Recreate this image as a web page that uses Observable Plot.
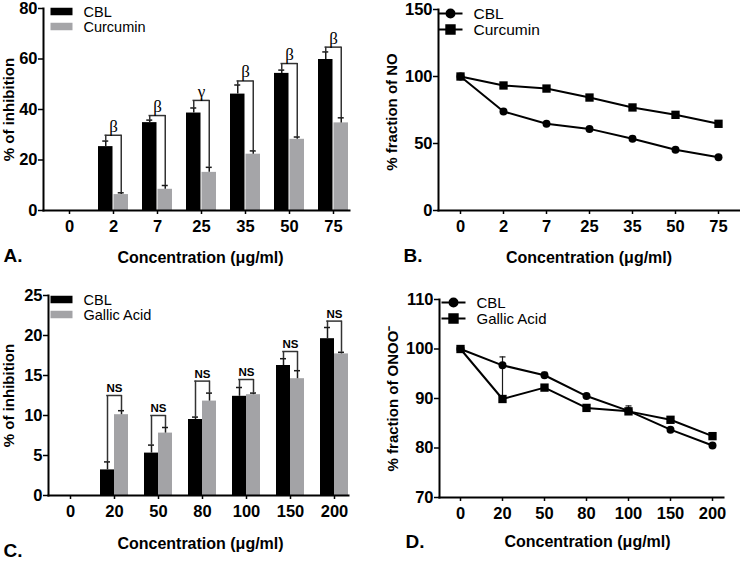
<!DOCTYPE html>
<html>
<head>
<meta charset="utf-8">
<script src="https://cdn.jsdelivr.net/npm/d3@7"></script>
<script src="https://cdn.jsdelivr.net/npm/@observablehq/plot@0.6"></script>
<style>
html,body{margin:0;padding:0;background:#fff;}
#fig{position:relative;width:740px;height:561px;overflow:hidden;background:#fff;}
#fig svg{position:absolute;overflow:visible;}
</style>
</head>
<body>
<div id="fig"></div>
<script>
// ---------- Panel A: % inhibition, CBL vs Curcumin ----------
const concA = ["0", "2", "7", "25", "35", "50", "75"];
const cblA = [0, 25.3, 34.8, 38.6, 46.1, 54.3, 59.8];
const cblAHi = [0, 27.5, 35.8, 40.6, 49.7, 55.6, 62.8];
const curA = [0, 6.3, 8.4, 15.1, 22.3, 28.2, 34.7];
const curAHi = [0, 7.0, 9.9, 17.1, 23.6, 29.1, 36.7];
const sigA = ["", "β", "β", "γ", "β", "β", "β"];
const sigALevel = [0, 29.8, 37.6, 43.6, 51.3, 58.2, 64.7];
const ticksA = [0, 20, 40, 60, 80];

// ---------- Panel B: % fraction of NO ----------
const concB = ["0", "2", "7", "25", "35", "50", "75"];
const cblB = [100, 73.9, 64.7, 60.9, 53.5, 45.3, 39.8];
const cblBHi = [100, 73.9, 64.7, 60.9, 55.3, 45.3, 39.8];
const curB = [100, 93.3, 91.0, 84.3, 76.9, 71.4, 64.7];
const curBHi = [100, 93.3, 91.0, 84.3, 76.9, 71.4, 64.7];
const ticksB = [0, 50, 100, 150];

// ---------- Panel C: % inhibition, CBL vs Gallic Acid ----------
const concC = ["0", "20", "50", "80", "100", "150", "200"];
const cblC = [0, 3.2, 5.3, 9.5, 12.4, 16.25, 19.6];
const cblCHi = [0, 4.2, 6.3, 9.8, 13.5, 17.1, 21.0];
const galC = [0, 10.1, 7.8, 11.8, 12.6, 14.6, 17.7];
const galCHi = [0, 10.6, 8.5, 12.8, 12.8, 15.6, 17.9];
const sigC = ["", "NS", "NS", "NS", "NS", "NS", "NS"];
const sigCLevel = [0, 12.5, 10.0, 14.3, 14.5, 18.0, 21.8];
const ticksC = [0, 5, 10, 15, 20, 25];

// ---------- Panel D: % fraction of ONOO- ----------
const concD = ["0", "20", "50", "80", "100", "150", "200"];
const cblD = [100, 96.7, 94.7, 90.5, 87.5, 83.7, 80.5];
const cblDHi = [100, 98.4, 95.3, 90.5, 88.5, 83.7, 80.5];
const galD = [100, 89.9, 92.2, 88.1, 87.4, 85.7, 82.4];
const galDHi = [100, 96.5, 92.2, 88.1, 87.4, 85.7, 82.4];
const ticksD = [70, 80, 90, 100, 110];

const xTitle = "Concentration (μg/ml)";

const SANS = "'Liberation Sans', Arial, Helvetica, sans-serif";
const SERIF = "'Liberation Serif', 'Times New Roman', serif";
const INK = "#1a1a1a";

const baseStyle = {fontFamily: SANS, fontSize: "16px", fontWeight: "bold", color: "black", background: "white", overflow: "visible"};

const swatch = {draw(ctx) { ctx.rect(-11, -3.75, 22, 7.5); }};
const lineCircle = {draw(ctx) { ctx.moveTo(-12, 0); ctx.lineTo(12, 0); ctx.moveTo(4, 0); ctx.arc(0, 0, 4, 0, 2 * Math.PI); }};
const lineSquare = {draw(ctx) { ctx.moveTo(-12, 0); ctx.lineTo(12, 0); ctx.rect(-4.2, -4.2, 8.4, 8.4); }};
const capSym = {draw(ctx) { ctx.moveTo(-3, 0); ctx.lineTo(3, 0); }};

function titles(o) {
  return [
    Plot.text([o.yTitle], {text: d => d, frameAnchor: "left", rotate: -90, textAnchor: "middle", lineAnchor: "middle", dx: o.yT[0], dy: o.yT[1], fontFamily: SANS, fontSize: 15, fontWeight: "bold"}),
    Plot.text([xTitle], {text: d => d, frameAnchor: "bottom", textAnchor: "middle", lineAnchor: "middle", dx: o.xT[0], dy: o.xT[1], fontFamily: SANS, fontSize: 16, fontWeight: "bold"}),
    Plot.text([o.letter], {text: d => d, frameAnchor: "bottom-left", textAnchor: "start", lineAnchor: "middle", dx: o.lT[0], dy: o.lT[1], fontFamily: SANS, fontSize: 19, fontWeight: "bold"})
  ];
}

function barPanel(o) {
  const rows = o.conc.map((c, i) => ({c, a: o.a[i], aHi: o.aHi[i], b: o.b[i], bHi: o.bHi[i], sig: o.sig[i], lvl: o.lvl[i]}));
  const d = rows.filter(r => r.a > 0);
  const bw = o.bw, g = o.gap, off = (bw + g) / 4, cw = 6;
  return Plot.plot({
    width: 370, height: o.height,
    marginLeft: o.m[0], marginTop: o.m[1], marginRight: o.m[2], marginBottom: o.m[3],
    x: {type: "band", domain: o.conc, paddingInner: o.pi, paddingOuter: o.po, align: o.align},
    y: {domain: o.yDomain},
    style: baseStyle,
    marks: [
      Plot.barY(d, {x: "c", y: "a", fill: "black", insetRight: bw / 2 + g / 2}),
      Plot.barY(d, {x: "c", y: "b", fill: o.gray, insetLeft: bw / 2 + g / 2}),
      Plot.ruleX(d, {x: "c", y1: "a", y2: "aHi", dx: -off, stroke: INK, strokeWidth: 1.5}),
      Plot.ruleX(d, {x: "c", y1: "b", y2: "bHi", dx: off, stroke: INK, strokeWidth: 1.5}),
      Plot.tickY(d, {x: "c", y: "aHi", insetLeft: bw / 2 - off - cw / 2, insetRight: bw / 2 + off - cw / 2, stroke: INK, strokeWidth: 1.5}),
      Plot.tickY(d, {x: "c", y: "bHi", insetLeft: bw / 2 + off - cw / 2, insetRight: bw / 2 - off - cw / 2, stroke: INK, strokeWidth: 1.5}),
      // significance brackets
      Plot.ruleX(d, {x: "c", y1: "aHi", y2: "lvl", dx: -off, stroke: "#333", strokeWidth: 1.5}),
      Plot.ruleX(d, {x: "c", y1: "bHi", y2: "lvl", dx: off, stroke: "#333", strokeWidth: 1.5}),
      Plot.tickY(d, {x: "c", y: "lvl", insetLeft: bw / 2 - off - 0.75, insetRight: bw / 2 - off - 0.75, stroke: "#333", strokeWidth: 1.5}),
      Plot.text(d, {x: "c", y: "lvl", text: "sig", dy: o.sigDy, fontFamily: o.sigFont, fontSize: o.sigSize, fontWeight: o.sigWeight}),
      // axes
      Plot.axisY(o.yTicks, {tickSize: 5, tickPadding: 1, label: null, strokeWidth: 1.5, fontSize: 16.5}),
      Plot.axisX({tickSize: 4, tickPadding: 6, label: null, strokeWidth: 1.5, fontSize: 16.5}),
      Plot.frame({anchor: "left", strokeWidth: 2}),
      Plot.frame({anchor: "bottom", strokeWidth: 2}),
      // legend
      Plot.dot([o.names[0]], {frameAnchor: "top-left", dx: o.lg[0], dy: o.lg[1], symbol: swatch, fill: "black", stroke: "none"}),
      Plot.dot([o.names[1]], {frameAnchor: "top-left", dx: o.lg[0], dy: o.lg[2], symbol: swatch, fill: o.gray, stroke: "none"}),
      Plot.text([o.names[0]], {text: d => d, frameAnchor: "top-left", textAnchor: "start", lineAnchor: "middle", dx: o.lg[3], dy: o.lg[1] + 0.5, fontSize: 14.5, fontWeight: "normal"}),
      Plot.text([o.names[1]], {text: d => d, frameAnchor: "top-left", textAnchor: "start", lineAnchor: "middle", dx: o.lg[3], dy: o.lg[2] + 0.5, fontSize: 14.5, fontWeight: "normal"}),
      ...titles(o)
    ]
  });
}

function linePanel(o) {
  const s1 = o.conc.map((c, i) => ({c, v: o.a[i], hi: o.aHi[i]}));
  const s2 = o.conc.map((c, i) => ({c, v: o.b[i], hi: o.bHi[i]}));
  const e1 = s1.filter(r => r.hi > r.v), e2 = s2.filter(r => r.hi > r.v);
  return Plot.plot({
    width: 370, height: o.height,
    marginLeft: o.m[0], marginTop: o.m[1], marginRight: o.m[2], marginBottom: o.m[3],
    x: {type: "point", domain: o.conc, padding: o.pad, align: o.align},
    y: {domain: o.yDomain},
    style: baseStyle,
    marks: [
      Plot.ruleX(e1, {x: "c", y1: "v", y2: "hi", stroke: INK, strokeWidth: 1.2}),
      Plot.ruleX(e2, {x: "c", y1: "v", y2: "hi", stroke: INK, strokeWidth: 1.2}),
      Plot.dot(e1, {x: "c", y: "hi", symbol: capSym, stroke: INK, strokeWidth: 1.2}),
      Plot.dot(e2, {x: "c", y: "hi", symbol: capSym, stroke: INK, strokeWidth: 1.2}),
      Plot.line(s1, {x: "c", y: "v", stroke: "black", strokeWidth: 2}),
      Plot.line(s2, {x: "c", y: "v", stroke: "black", strokeWidth: 2}),
      Plot.dot(s1, {x: "c", y: "v", r: 4, fill: "black", symbol: "circle", stroke: "none"}),
      Plot.dot(s2, {x: "c", y: "v", r: 4.7, fill: "black", symbol: "square", stroke: "none"}),
      Plot.axisY(o.yTicks, {tickSize: 5, tickPadding: 1, label: null, strokeWidth: 1.5, fontSize: 16.5}),
      Plot.axisX({tickSize: 4, tickPadding: 6, label: null, strokeWidth: 1.5, fontSize: 16.5}),
      Plot.frame({anchor: "left", strokeWidth: 2}),
      Plot.frame({anchor: "bottom", strokeWidth: 2}),
      // legend
      Plot.dot([o.names[0]], {frameAnchor: "top-left", dx: o.lg[0], dy: o.lg[1], symbol: lineCircle, fill: "black", stroke: "black", strokeWidth: 2}),
      Plot.dot([o.names[1]], {frameAnchor: "top-left", dx: o.lg[0], dy: o.lg[2], symbol: lineSquare, fill: "black", stroke: "black", strokeWidth: 2}),
      Plot.text([o.names[0]], {text: d => d, frameAnchor: "top-left", textAnchor: "start", lineAnchor: "middle", dx: o.lg[3], dy: o.lg[1] + 0.5, fontSize: o.lgFont, fontWeight: "normal"}),
      Plot.text([o.names[1]], {text: d => d, frameAnchor: "top-left", textAnchor: "start", lineAnchor: "middle", dx: o.lg[3], dy: o.lg[2] + 0.5, fontSize: o.lgFont, fontWeight: "normal"}),
      ...titles(o)
    ]
  });
}

const fig = document.getElementById("fig");
function place(svg, left, top) {
  svg.style.position = "absolute";
  svg.style.left = left + "px";
  svg.style.top = top + "px";
  fig.appendChild(svg);
}

place(barPanel({
  conc: concA, a: cblA, aHi: cblAHi, b: curA, bHi: curAHi, sig: sigA, lvl: sigALevel,
  names: ["CBL", "Curcumin"], gray: "#a5a5a8",
  height: 280, m: [43, 8, 21, 70], pi: 0.32, po: 0.12, align: 0.93, bw: 30, gap: 1,
  yDomain: [0, 80], yTicks: ticksA,
  sigDy: -9, sigFont: SERIF, sigSize: 17, sigWeight: "normal",
  lg: [18, 3, 18, 40],
  yTitle: "% of inhibition", yT: [-34, 0], xT: [4, 47], lT: [-40, 45], letter: "A."
}), 0, 0);

place(linePanel({
  conc: concB, a: cblB, aHi: cblBHi, b: curB, bHi: curBHi,
  names: ["CBL", "Curcumin"], lgFont: 15.5,
  height: 280, m: [68, 9, 1, 70], pad: 0.484, align: 0.5,
  yDomain: [0, 150], yTicks: ticksB,
  lg: [12, 4, 20, 35],
  yTitle: "% fraction of NO", yT: [-46, 2], xT: [0, 47], lT: [-35, 45], letter: "B."
}), 370, 0);

place(barPanel({
  conc: concC, a: cblC, aHi: cblCHi, b: galC, bHi: galCHi, sig: sigC, lvl: sigCLevel,
  names: ["CBL", "Gallic Acid"], gray: "#a3a3a6",
  height: 281, m: [48, 15, 22, 66], pi: 0.368, po: 0.07, align: 0.97, bw: 28, gap: 0,
  yDomain: [0, 25], yTicks: ticksC,
  sigDy: -7, sigFont: SANS, sigSize: 11.5, sigWeight: "bold",
  lg: [13, 4, 19, 35],
  yTitle: "% of inhibition", yT: [-39, 0], xT: [2, 48], lT: [-45, 55], letter: "C."
}), 0, 280);

place(linePanel({
  conc: concD, a: cblD, aHi: cblDHi, b: galD, bHi: galDHi,
  names: ["CBL", "Gallic Acid"], lgFont: 15,
  height: 281, m: [69, 19, 17, 64], pad: 0.357, align: 0.66,
  yDomain: [70, 110], yTicks: ticksD,
  lg: [14, 3, 19, 37],
  yTitle: "% fraction of ONOO⁻", yT: [-46, 0], xT: [6, 44], lT: [-34, 44], letter: "D."
}), 370, 280);
</script>
</body>
</html>
